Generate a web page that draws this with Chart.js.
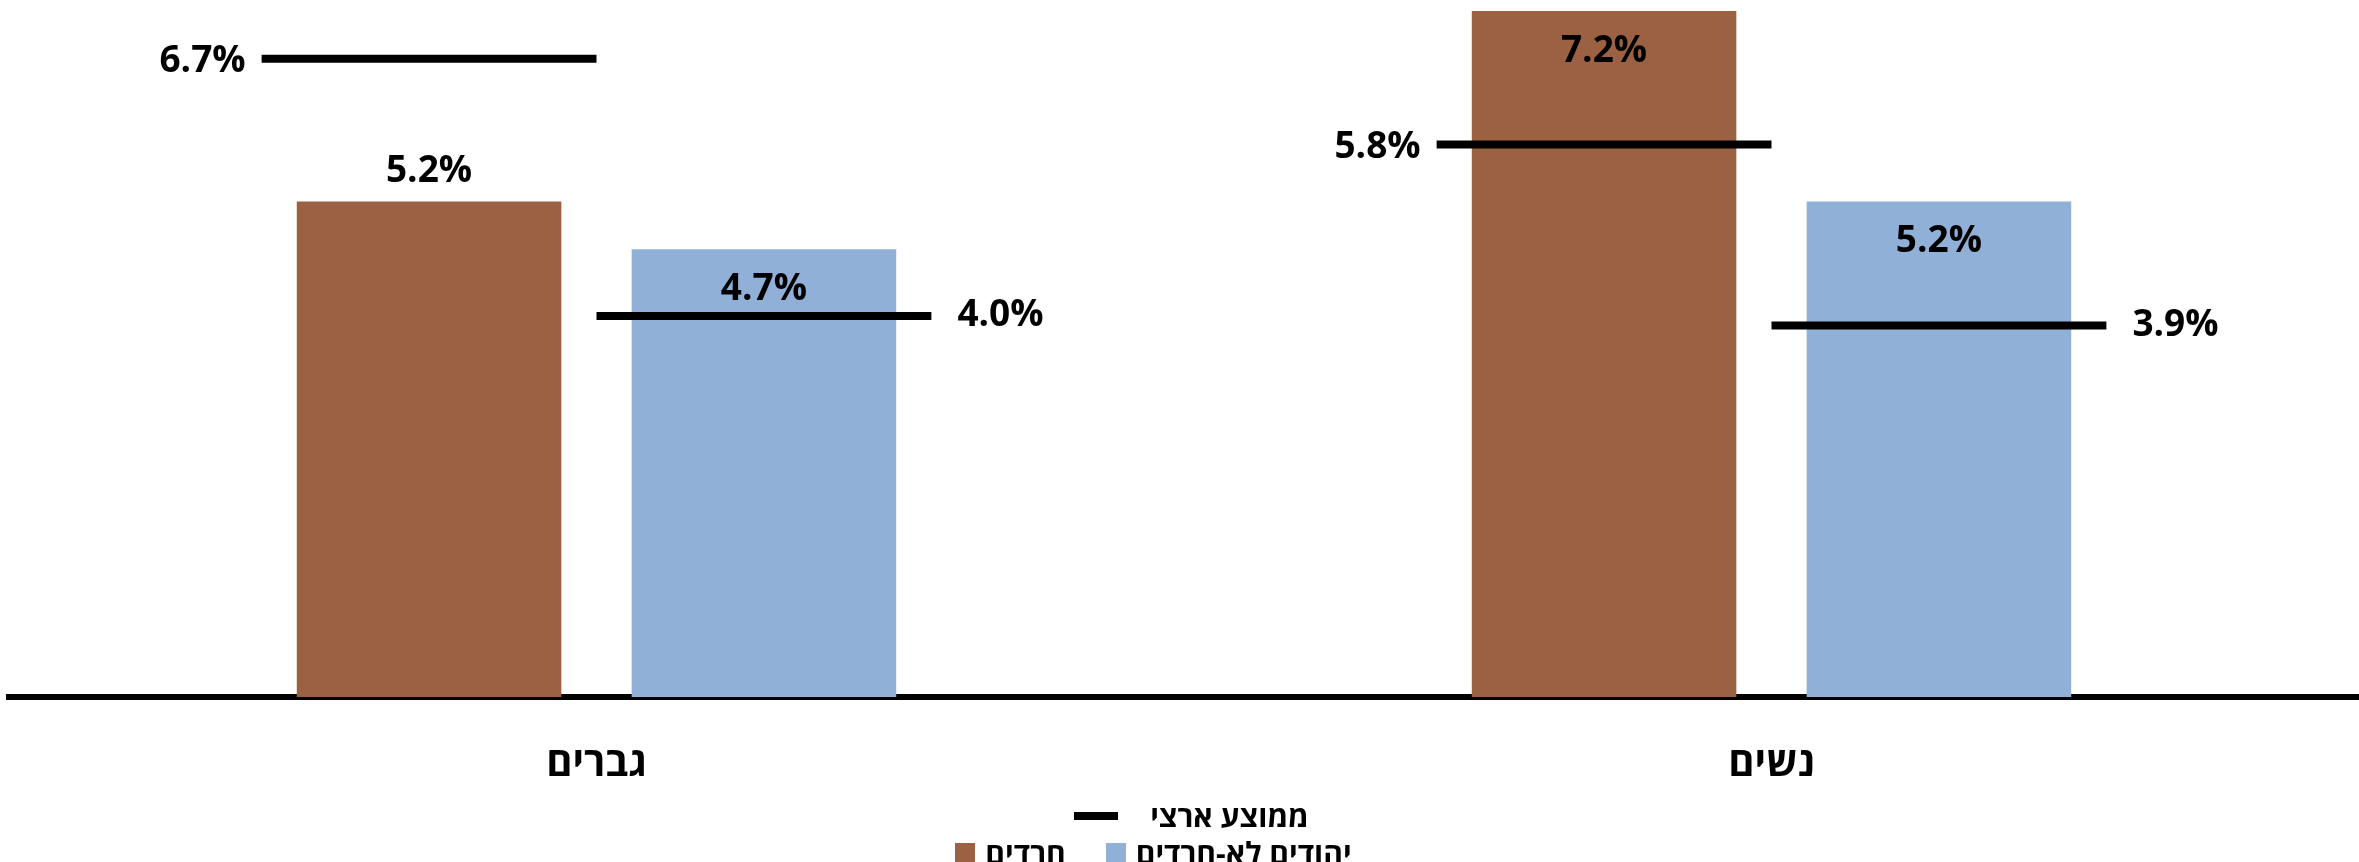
<!DOCTYPE html>
<html lang="he">
<head>
<meta charset="utf-8">
<script src="https://cdn.jsdelivr.net/npm/chart.js@4.4.0/dist/chart.umd.min.js"></script>
<style>
  html, body { margin: 0; padding: 0; background: #fff; }
  #wrap { position: relative; width: 2359px; height: 862px; overflow: hidden; }
  #legend {
    position: absolute; left: 0; right: 0; top: 797px;
    font: bold 30px 'Open Sans', 'DejaVu Sans', sans-serif; color: #000;
  }
  .row { display: flex; justify-content: center; align-items: center; height: 37px; }
  .row.top { padding-left: 24px; }
  .row.bottom { padding-right: 52px; }
  .item { display: flex; align-items: center; margin: 0 20px; }
  .swatch { width: 20px; height: 20px; margin-right: 10px; }
  .dash { width: 44px; height: 8px; background: #000; margin-right: 32px; }
</style>
</head>
<body>
<div id="wrap">
  <canvas id="chart"></canvas>
  <div id="legend"></div>
</div>
<script>
const categories = ['גברים', 'נשים'];
const haredim = [5.2, 7.2];
const nonHaredim = [4.7, 5.2];
const avgHaredim = [6.7, 5.8];
const avgNonHaredim = [4.0, 3.9];

const catPct = 0.57;
const barPct = 0.79;
const font = "'Open Sans', 'DejaVu Sans', sans-serif";

// national average marks sit over each bar slot (category index +/- a quarter of the group)
const avgPoints = [];
categories.forEach((c, i) => {
    [avgHaredim, avgNonHaredim].forEach((arr, j) => {
        avgPoints.push({ x: i + (j - 0.5) * catPct / 2, y: arr[i], side: j === 0 ? 'left' : 'right' });
    });
});

const valueLabels = {
    id: 'valueLabels',
    afterDatasetsDraw(chart) {
        const { ctx } = chart;
        ctx.save();
        ctx.font = `bold 37px ${font}`;
        ctx.fillStyle = '#000';
        ctx.textBaseline = 'middle';
        chart.data.datasets.forEach((ds, di) => {
            const meta = chart.getDatasetMeta(di);
            meta.data.forEach((el, i) => {
                if (ds.type === 'scatter') {
                    const p = ds.data[i];
                    const half = el.options.radius;
                    const text = p.y.toFixed(1) + '%';
                    if (p.side === 'left') {
                        ctx.textAlign = 'right';
                        ctx.fillText(text, el.x - half - 16, el.y + 3);
                    } else {
                        ctx.textAlign = 'left';
                        ctx.fillText(text, el.x + half + 26, el.y);
                    }
                } else {
                    ctx.textAlign = 'center';
                    const off = ds.labelAnchor[i] === 'out' ? -30 : 40;
                    ctx.fillText(ds.data[i].toFixed(1) + '%', el.x, el.y + off);
                }
            });
        });
        ctx.restore();
    },
};

const chart = new Chart(document.getElementById('chart'), {
    type: 'bar',
    data: {
        labels: categories,
        datasets: [
            {
                label: 'חרדים', data: haredim, backgroundColor: '#9C6142',
                categoryPercentage: catPct, barPercentage: barPct, order: 1,
                labelAnchor: ['out', 'in'],
            },
            {
                label: 'יהודים לא-חרדים', data: nonHaredim, backgroundColor: '#91B0D8',
                categoryPercentage: catPct, barPercentage: barPct, order: 1,
                labelAnchor: ['in', 'in'],
            },
            {
                // parsing off so the fractional x stays between the category ticks
                type: 'scatter', label: 'ממוצע ארצי', data: avgPoints, parsing: false,
                order: 0, showLine: false,
                pointStyle: 'line', pointBorderColor: '#000', pointBackgroundColor: '#000',
                pointBorderWidth: 8,
                pointRadius: (ctx) => {
                    const area = ctx.chart.chartArea;
                    return area ? area.width / categories.length * catPct / 4 : 0;
                },
            },
        ],
    },
    options: {
        responsive: true,
        maintainAspectRatio: false,
        animation: false,
        events: [],
        // the plot runs a little past the right edge, as in the source
        layout: { padding: { left: 9, right: -10, top: 11, bottom: 37 } },
        plugins: {
            legend: { display: false },
            tooltip: { enabled: false },
        },
        scales: {
            x: {
                type: 'category',
                z: 1,
                grid: { display: false },
                border: { display: true, color: '#000', width: 6 },
                ticks: { color: '#000', padding: 36, font: { family: font, size: 40, weight: 'bold' } },
            },
            y: { display: false, min: 0, max: 7.2 },
        },
    },
    plugins: [valueLabels],
});

// html legend: average on its own row, the two groups below
const legendEl = document.getElementById('legend');
const rowTop = document.createElement('div');
rowTop.className = 'row top';
const rowBottom = document.createElement('div');
rowBottom.className = 'row bottom';
chart.data.datasets.forEach((ds) => {
    const item = document.createElement('div');
    item.className = 'item';
    const mark = document.createElement('span');
    const text = document.createElement('span');
    text.dir = 'rtl';
    text.textContent = ds.label;
    if (ds.type === 'scatter') {
        mark.className = 'dash';
        item.append(mark, text);
        rowTop.appendChild(item);
    } else {
        mark.className = 'swatch';
        mark.style.background = ds.backgroundColor;
        item.append(mark, text);
        rowBottom.appendChild(item);
    }
});
legendEl.append(rowTop, rowBottom);
</script>
</body>
</html>
